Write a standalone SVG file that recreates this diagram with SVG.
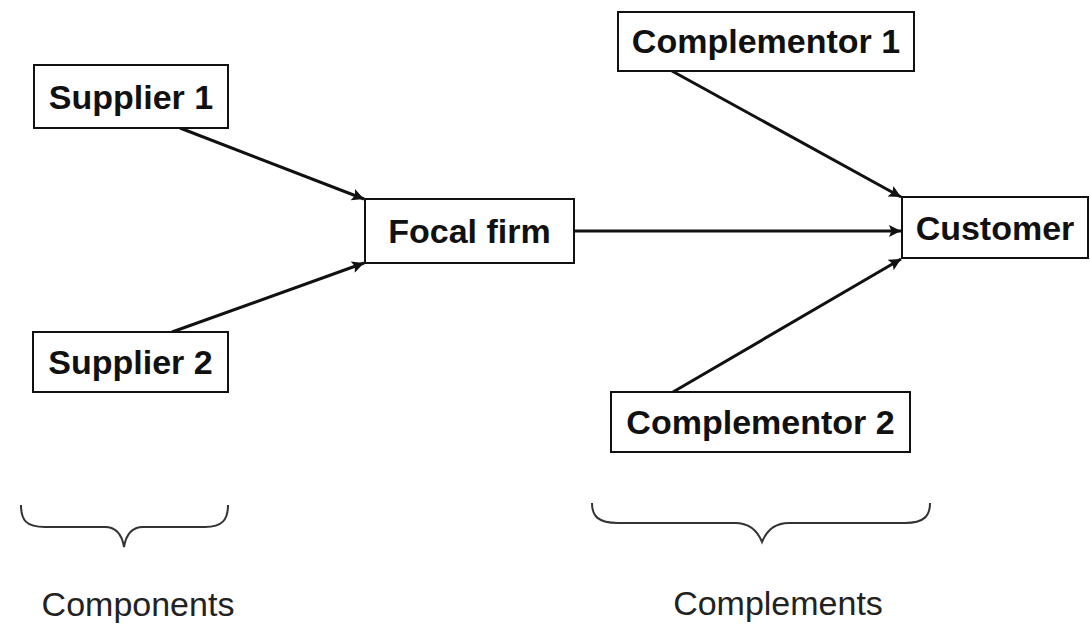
<svg xmlns="http://www.w3.org/2000/svg" width="1090" height="625" viewBox="0 0 1090 625">
<defs>
<style>
.box{fill:#fff;stroke:#111;stroke-width:2}
.lbl{font-family:"Liberation Sans",Arial,sans-serif;font-weight:bold;font-size:34px;fill:#111;text-anchor:middle}
.cap{font-family:"Liberation Sans",Arial,sans-serif;font-size:34px;fill:#222;text-anchor:middle}
.edge{stroke:#111;stroke-width:3;fill:none;marker-end:url(#ah)}
.brace{stroke:#333;stroke-width:2;fill:none}
</style>
<marker id="ah" viewBox="0 0 10 10" refX="10" refY="5" markerWidth="5" markerHeight="4" orient="auto" markerUnits="strokeWidth">
<path d="M0,0 L10,5 L0,10 L2,5 z" fill="#111"/>
</marker>
</defs>
<rect width="1090" height="625" fill="#fff"/>
<g id="connectors">
<line class="edge" x1="180" y1="128" x2="364" y2="199"/>
<line class="edge" x1="172" y1="332" x2="364" y2="263"/>
<line class="edge" x1="574" y1="231" x2="901" y2="231"/>
<line class="edge" x1="672" y1="71" x2="901" y2="197"/>
<line class="edge" x1="673" y1="392" x2="901" y2="259"/>
</g>
<g id="supplier1"><rect class="box" x="34" y="65" width="194" height="63"/><text class="lbl" x="131" y="109">Supplier 1</text></g>
<g id="supplier2"><rect class="box" x="33" y="332" width="195" height="60"/><text class="lbl" x="130.5" y="374">Supplier 2</text></g>
<g id="focal"><rect class="box" x="365" y="199" width="209" height="64"/><text class="lbl" x="469.5" y="243">Focal firm</text></g>
<g id="complementor1"><rect class="box" x="618" y="12" width="296" height="59"/><text class="lbl" x="766" y="53">Complementor 1</text></g>
<g id="customer"><rect class="box" x="902" y="197" width="186" height="61"/><text class="lbl" x="995" y="240">Customer</text></g>
<g id="complementor2"><rect class="box" x="611" y="392" width="299" height="60"/><text class="lbl" x="760.5" y="434">Complementor 2</text></g>
<g id="components">
<path class="brace" d="M21,505 C21,520 26,527 45,527 L105,527 C116,527 122,535 124,547 C126,535 132,527 143,527 L205,527 C222,527 228,520 228,505"/>
<text class="cap" x="138" y="616">Components</text>
</g>
<g id="complements">
<path class="brace" d="M592,503 C592,516 598,523 618,523 L735,523 C750,523 758,532 762,542 C766,532 774,523 789,523 L905,523 C924,523 930,516 930,503"/>
<text class="cap" x="778" y="615">Complements</text>
</g>
</svg>
